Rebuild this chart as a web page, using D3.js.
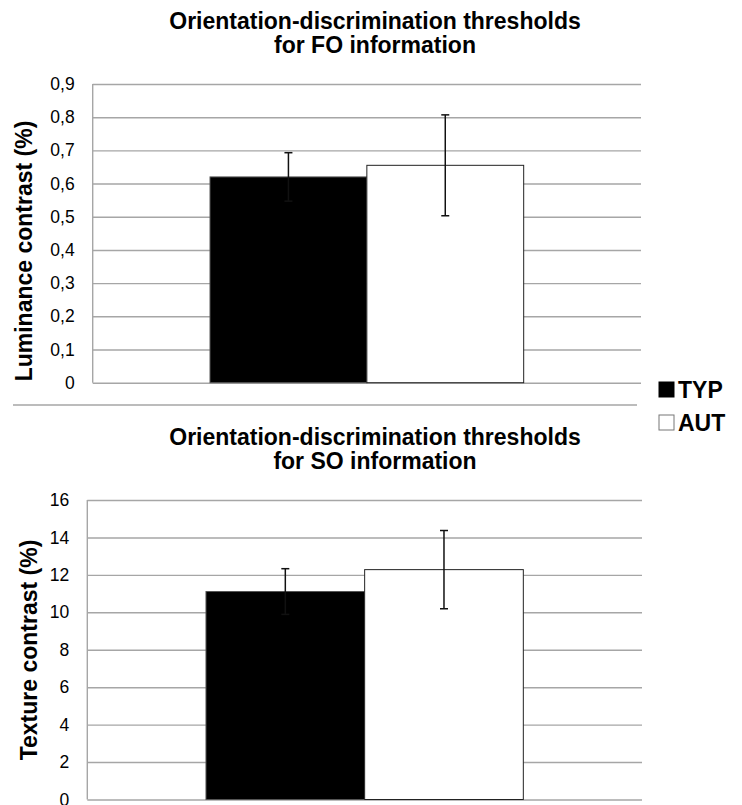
<!DOCTYPE html>
<html>
<head>
<meta charset="utf-8">
<script src="https://cdn.jsdelivr.net/npm/d3@7"></script>
<style>
  html, body { margin: 0; padding: 0; background: #fff; }
  svg { display: block; font-family: "Liberation Sans", Arial, sans-serif; }
</style>
</head>
<body>
<div id="chart"></div>
<script>
// groups (legend order)
const groups = ["TYP", "AUT"];
const groupFill = ["#000000", "#ffffff"];

// first-order (luminance) thresholds
const foMeans = [0.62, 0.655];
const foErrors = [0.073, 0.152];
const foTicks = [0, 0.1, 0.2, 0.3, 0.4, 0.5, 0.6, 0.7, 0.8, 0.9];

// second-order (texture) thresholds
const soMeans = [11.11, 12.28];
const soErrors = [1.22, 2.09];
const soTicks = [0, 2, 4, 6, 8, 10, 12, 14, 16];

const width = 742, height = 805;
const gridColor = "#a6a6a6";
const fontFamily = '"Liberation Sans", Arial, sans-serif';

const svg = d3.select("#chart").append("svg")
  .attr("width", width).attr("height", height);

// comma decimal like the original
const commaFmt = d => d === 0 ? "0" : d3.format(".1f")(d).replace(".", ",");

function panel(opts) {
  const { top, bottom, left, right, ticks, fmt, means, errors } = opts;
  const g = svg.append("g");

  const y = d3.scaleLinear().domain([0, d3.max(ticks)]).range([bottom, top]);
  const x0 = d3.scaleBand().domain(["all"]).range([left, right]).paddingOuter(0.374);
  const x1 = d3.scaleBand().domain(groups).range([0, x0.bandwidth()]);

  // gridlines + tick labels
  const axis = g.append("g")
    .attr("transform", `translate(${left},0)`)
    .call(d3.axisLeft(y).tickValues(ticks).tickFormat(fmt)
      .tickSize(-(right - left)).tickPadding(18));
  axis.attr("font-family", fontFamily).attr("font-size", 17.5);
  axis.select(".domain").remove();
  axis.selectAll(".tick line").attr("stroke", gridColor).attr("stroke-width", 1.4);
  axis.selectAll(".tick text").attr("fill", "#000");

  // left border of plot area
  g.append("line")
    .attr("x1", left).attr("x2", left)
    .attr("y1", top).attr("y2", bottom)
    .attr("stroke", gridColor).attr("stroke-width", 1.4);

  const data = groups.map((k, i) => ({ k, i, m: means[i], e: errors[i] }));

  g.selectAll("rect.bar")
    .data(data)
    .join("rect")
    .attr("class", "bar")
    .attr("x", d => x0("all") + x1(d.k))
    .attr("width", x1.bandwidth())
    .attr("y", d => y(d.m))
    .attr("height", d => y(0) - y(d.m))
    .attr("fill", d => groupFill[d.i])
    .attr("stroke", d => d.i === 0 ? "#555" : "#222")
    .attr("stroke-width", 1);

  // error bars
  const eb = g.selectAll("g.err").data(data).join("g").attr("class", "err");
  const cx = d => x0("all") + x1(d.k) + x1.bandwidth() / 2;
  eb.append("line")
    .attr("x1", cx).attr("x2", cx)
    .attr("y1", d => y(d.m - d.e)).attr("y2", d => y(d.m + d.e))
    .attr("stroke", "#111").attr("stroke-width", 1.5);
  [-1, 1].forEach(s => {
    eb.append("line")
      .attr("x1", d => cx(d) - 4).attr("x2", d => cx(d) + 4)
      .attr("y1", d => y(d.m + s * d.e)).attr("y2", d => y(d.m + s * d.e))
      .attr("stroke", "#111").attr("stroke-width", 1.5);
  });

  // title
  const t = g.append("text")
    .attr("text-anchor", "middle")
    .attr("font-weight", "bold")
    .style("font-size", "23px");
  opts.title.forEach((line, i) => {
    t.append("tspan").attr("x", 375).attr("y", opts.titleY + i * 24.5).text(line);
  });

  // y label
  g.append("text")
    .attr("transform", `translate(${opts.labelX},${opts.labelY}) rotate(-90)`)
    .attr("text-anchor", "middle")
    .attr("font-weight", "bold")
    .style("font-size", "23px")
    .text(opts.yLabel);
}

panel({
  top: 84, bottom: 382.7, left: 92.7, right: 641,
  ticks: foTicks, fmt: commaFmt, means: foMeans, errors: foErrors,
  title: ["Orientation-discrimination thresholds", "for FO information"],
  titleY: 28.5,
  yLabel: "Luminance contrast (%)", labelX: 31.5, labelY: 251
});

panel({
  top: 500, bottom: 799.5, left: 87.3, right: 642,
  ticks: soTicks, fmt: d3.format("d"), means: soMeans, errors: soErrors,
  title: ["Orientation-discrimination thresholds", "for SO information"],
  titleY: 444.5,
  yLabel: "Texture contrast (%)", labelX: 36.5, labelY: 650
});

// separator between the two panels
svg.append("line")
  .attr("x1", 13).attr("x2", 637)
  .attr("y1", 405).attr("y2", 405)
  .attr("stroke", gridColor).attr("stroke-width", 1.6);

// legend
const legend = svg.append("g").selectAll("g")
  .data(groups)
  .join("g")
  .attr("transform", (d, i) => `translate(659,${382 + i * 33})`);
legend.append("rect")
  .attr("width", 15).attr("height", 15)
  .attr("fill", (d, i) => groupFill[i])
  .attr("stroke", (d, i) => i === 0 ? "#000" : "#777")
  .attr("stroke-width", 1);
legend.append("text")
  .attr("x", 19).attr("y", 15.5)
  .attr("font-weight", "bold")
  .style("font-size", "23px")
  .text(d => d);
</script>
</body>
</html>
